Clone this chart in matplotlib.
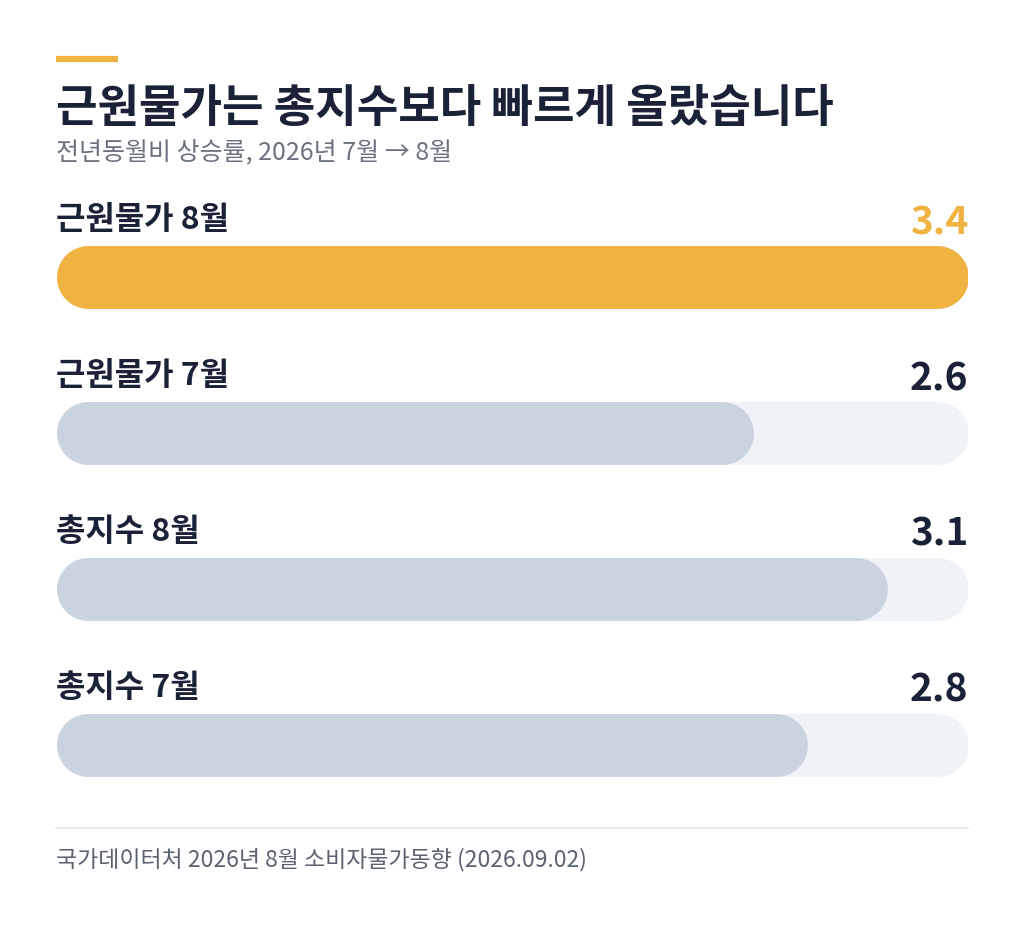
import matplotlib
matplotlib.use("Agg")
from matplotlib import pyplot as plt

plt.rcParams['font.family'] = ['Noto Sans CJK KR', 'DejaVu Sans']

title = "근원물가는 총지수보다 빠르게 올랐습니다"
subtitle = "전년동월비 상승률, 2026년 7월 → 8월"
footer = "국가데이터처 2026년 8월 소비자물가동향 (2026.09.02)"

labels = ["근원물가 8월", "근원물가 7월", "총지수 8월", "총지수 7월"]
values = [3.4, 2.6, 3.1, 2.8]
highlight = [True, False, False, False]

W, H = 1024, 929
navy = "#1b2238"
orange = "#f0b240"
bar_grey = "#cad4e0"
track = "#eff3f8"

fig = plt.figure(figsize=(W / 100, H / 100), dpi=100)
fig.patch.set_facecolor("white")

# axes spans the bar width horizontally, whole figure vertically (y in pixels)
left, right = 56, 968
ax = fig.add_axes([left / W, 0, (right - left) / W, 1])
vmax = max(values)
ax.set_xlim(0, vmax)
ax.set_ylim(H, 0)
ax.axis("off")

bar_h = 63                      # px
lw = bar_h * 72 / 100           # points
r = (bar_h / 2) / (right - left) * vmax   # round cap radius in data units

row0, step = 277.5, 156
for i, (lab, v, hl) in enumerate(zip(labels, values, highlight)):
    yc = row0 + i * step
    ax.plot([r, vmax - r], [yc, yc], color=track, lw=lw,
            solid_capstyle="round", zorder=1)
    ax.plot([r, v - r], [yc, yc], color=orange if hl else bar_grey, lw=lw,
            solid_capstyle="round", zorder=2)
    ax.text(0, yc - 58, lab, ha="left", va="center",
            fontsize=23, fontweight="bold", color=navy)
    ax.text(vmax, yc - 55, f"{v:.1f}", ha="right", va="center", fontsize=28,
            fontweight="bold", color=orange if hl else navy)

# accent line at the top
fig.add_artist(plt.Line2D([56 / W, 118 / W], [1 - 60 / H, 1 - 60 / H],
                          color=orange, lw=4.5, solid_capstyle="butt"))

fig.text(56 / W, 1 - 109 / H, title, ha="left", va="center", fontsize=32.5,
         fontweight="bold", color=navy)
fig.text(56 / W, 1 - 153 / H, subtitle, ha="left", va="center", fontsize=18,
         color="#6b7280")

fig.add_artist(plt.Line2D([56 / W, 968 / W], [1 - 829 / H, 1 - 829 / H],
                          color="#e5e7eb", lw=1.2))
fig.text(56 / W, 1 - 860 / H, footer, ha="left", va="center", fontsize=16.5,
         color="#5b6270")

fig.savefig("out.png", dpi=100, facecolor="white")
